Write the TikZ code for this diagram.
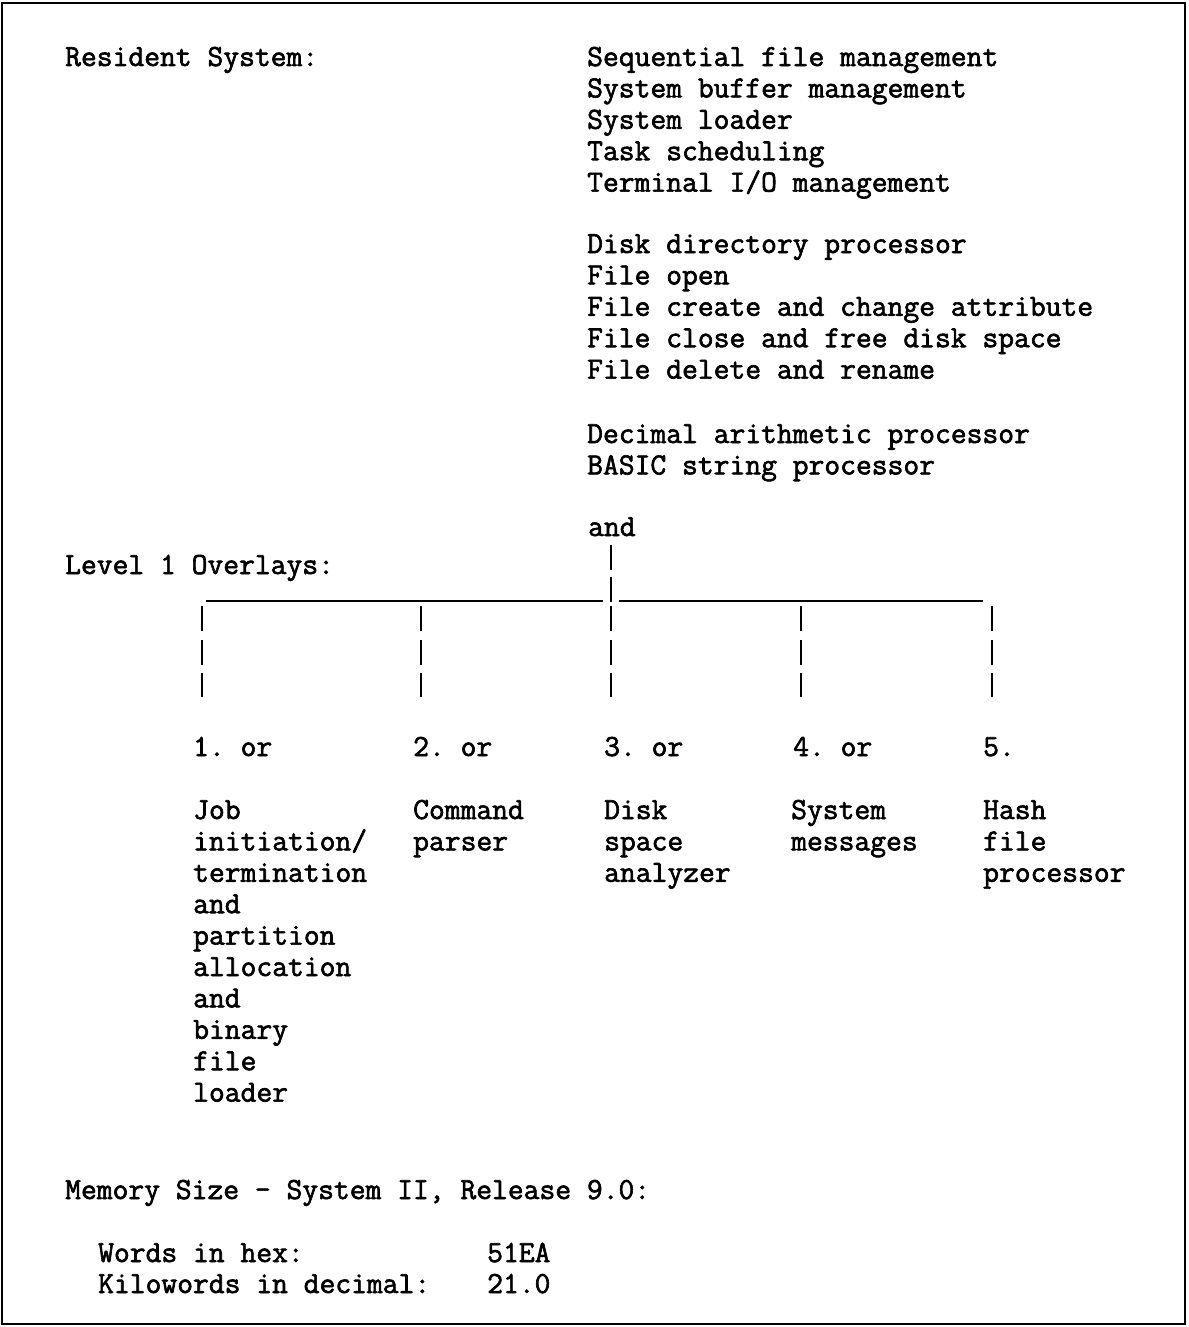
\documentclass[tikz,border=0pt]{standalone}
\usepackage{fontspec}
\setmonofont[FakeBold=2]{Latin Modern Mono}
\begin{document}
\begin{tikzpicture}[x=1pt,y=-1pt,
  txt/.style={anchor=base west,inner sep=0pt,align=left,
    font=\ttfamily\fontsize{30.7}{31.4}\selectfont},
  post/.style={line width=2.4pt},
  bar/.style={line width=2.4pt}]
\useasboundingbox (0,0) rectangle (1188,1327);
\draw[line width=2.5pt] (2,3) rectangle (1185,1324);
% left labels (multi-line nodes are placed at the baseline of their last line)
\node[txt] (res) at (65,66) {Resident System:};
\node[txt] (lvl) at (65,574) {Level 1 Overlays:};
% right column
\node[txt] (r1) at (587,191.6) {Sequential file management\\System buffer management\\System loader\\Task scheduling\\Terminal I/O management};
\node[txt] (r2) at (587,378.6) {Disk directory processor\\File open\\File create and change attribute\\File close and free disk space\\File delete and rename};
\node[txt] (r3) at (587,474.4) {Decimal arithmetic processor\\BASIC string processor};
\node[txt] (and) at (588,536) {and};
% tree
\coordinate (t1) at (611,545);
\coordinate (t2) at (611,570);
\coordinate (t3) at (611,577);
\coordinate (t4) at (611,602);
\coordinate (hl) at (206,601);
\coordinate (hr) at (983,601);
\coordinate (gl) at (603,601);
\coordinate (gr) at (619,601);
\draw[bar] (hl) -- (gl);
\draw[bar] (gr) -- (hr);
\draw[post] (t1) -- (t2);
\draw[post] (t3) -- (t4);
\foreach \x in {202,421,611,801,992}{
  \draw[post] (\x,606) -- (\x,631);
  \draw[post] (\x,640) -- (\x,665);
  \draw[post] (\x,673) -- (\x,697);
}
% numbered items
\node[txt] (n1) at (193,756) {1. or};
\node[txt] (n2) at (413,756) {2. or};
\node[txt] (n3) at (604,756) {3. or};
\node[txt] (n4) at (793,756) {4. or};
\node[txt] (n5) at (983,756) {5.};
\node[txt] (d1) at (193,1101.6) {Job\\initiation/\\termination\\and\\partition\\allocation\\and\\binary\\file\\loader};
\node[txt] (d2) at (413,850.4) {Command\\parser};
\node[txt] (d3) at (604,881.8) {Disk\\space\\analyzer};
\node[txt] (d4) at (791,850.4) {System\\messages};
\node[txt] (d5) at (983,881.8) {Hash\\file\\processor};
% memory
\node[txt] (mem) at (65,1199) {Memory Size - System II, Release 9.0:};
\node[txt] (w1) at (98,1262) {Words in hex:};
\node[txt] (w2) at (487,1262) {51EA};
\node[txt] (k1) at (98,1293) {Kilowords in decimal:};
\node[txt] (k2) at (487,1293) {21.0};
\end{tikzpicture}
\end{document}
